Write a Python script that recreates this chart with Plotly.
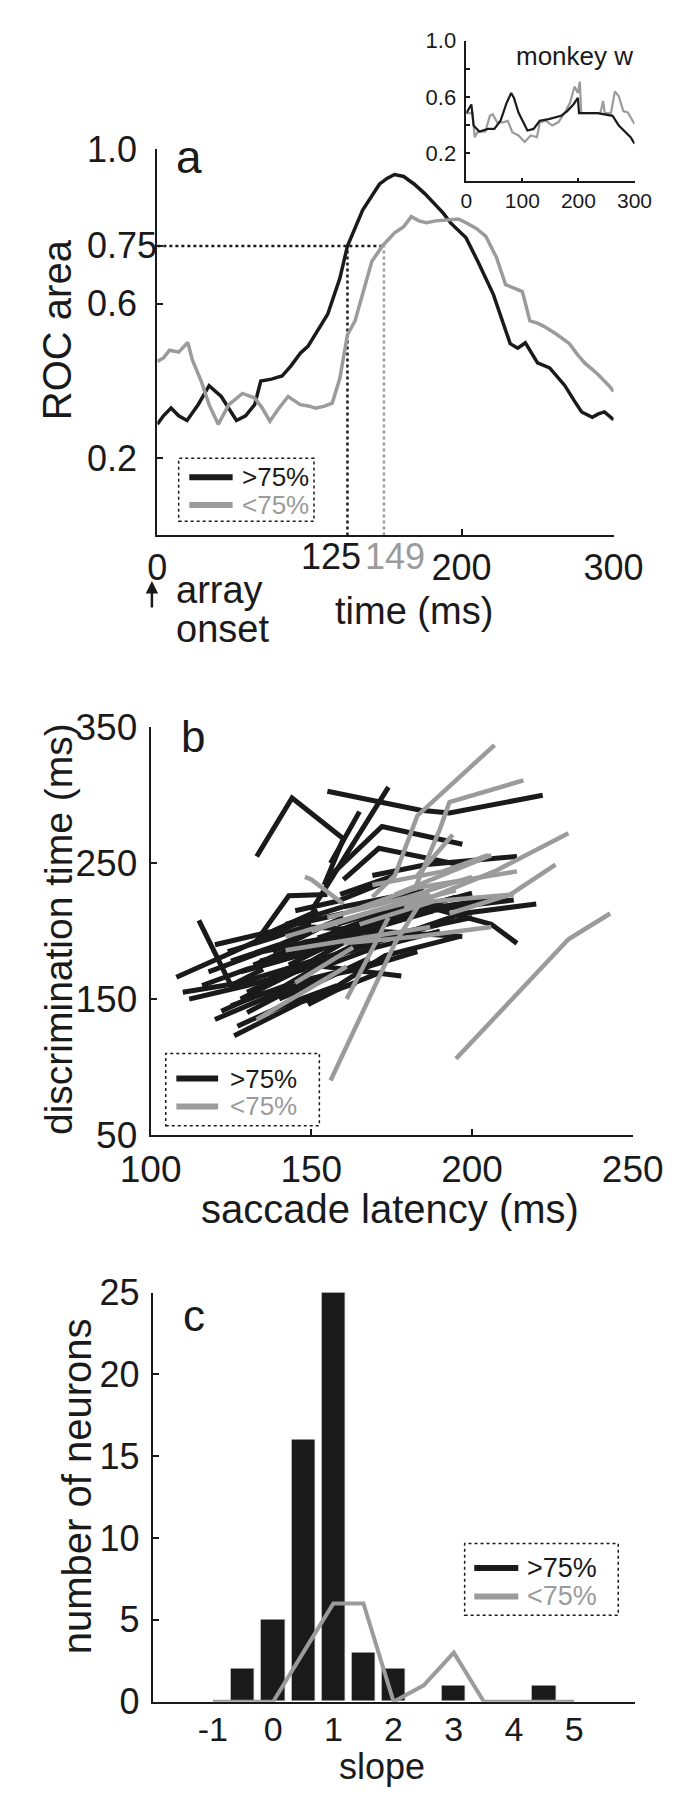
import plotly.graph_objects as go

W, H = 682, 1800
FONT = "Liberation Sans, Arial, Helvetica, sans-serif"
BLACK = "#1a1a1a"
GRAY = "#9b9b9b"

# ---------------- panel a : ROC area vs time ----------------
roc_hi_t = [0, 4, 9, 14, 19.5, 27, 34, 42, 52, 58, 64, 68, 75, 82, 88, 94, 99, 104, 112, 120, 125,
            135, 146, 151, 156, 162, 169, 176, 182, 188, 193, 198, 203, 211, 221, 232, 237, 242,
            250, 258, 263, 268, 274, 279, 286, 290, 294, 300]
roc_hi = [0.288, 0.31, 0.33, 0.31, 0.298, 0.34, 0.388, 0.36, 0.298, 0.31, 0.339, 0.40, 0.405, 0.413,
          0.44, 0.472, 0.49, 0.523, 0.573, 0.666, 0.75, 0.843, 0.91, 0.925, 0.935, 0.93, 0.91, 0.885,
          0.86, 0.835, 0.809, 0.79, 0.771, 0.708, 0.624, 0.497, 0.485, 0.499, 0.447, 0.434, 0.41,
          0.388, 0.35, 0.32, 0.306, 0.315, 0.32, 0.30]
roc_lo_t = [0, 4, 8, 14, 20, 23, 29, 34, 40, 47, 56, 64, 69, 74, 80, 86, 94, 100, 104, 110, 115, 120,
            125, 130, 136, 141, 148, 156, 162, 167, 172, 177, 183, 188, 193, 198, 203, 210, 216, 223,
            229, 235, 240, 245, 250, 255, 263, 271, 276, 281, 289, 297, 300]
roc_lo = [0.451, 0.46, 0.48, 0.475, 0.50, 0.455, 0.398, 0.339, 0.288, 0.339, 0.368, 0.356, 0.33,
          0.296, 0.33, 0.36, 0.339, 0.335, 0.33, 0.335, 0.343, 0.407, 0.52, 0.556, 0.64, 0.71, 0.75,
          0.784, 0.80, 0.826, 0.815, 0.81, 0.815, 0.817, 0.82, 0.82, 0.81, 0.795, 0.775, 0.72, 0.65,
          0.64, 0.632, 0.556, 0.55, 0.54, 0.52, 0.497, 0.47, 0.447, 0.42, 0.388, 0.373]
threshold = 0.75
cross_hi = 125
cross_lo = 149
a_yticks = [0.2, 0.6, 0.75, 1.0]
a_ytext = ["0.2", "0.6", "0.75", "1.0"]
a_xticks = [0, 200, 300]

# ---------------- inset : monkey w ----------------
ins_hi_t = [0, 9, 13, 23, 39, 50, 61, 72, 80, 85, 93, 104, 109, 120, 131, 147, 169, 180, 191, 199,
            201, 234, 245, 261, 272, 283, 293, 300]
ins_hi = [0.485, 0.547, 0.397, 0.355, 0.373, 0.373, 0.431, 0.559, 0.628, 0.594, 0.49, 0.397, 0.362,
          0.373, 0.431, 0.443, 0.466, 0.50, 0.547, 0.594, 0.485, 0.485, 0.478, 0.466, 0.397, 0.35,
          0.315, 0.269]
ins_lo_t = [0, 11, 15, 20, 34, 42, 47, 55, 66, 74, 82, 93, 104, 115, 126, 131, 142, 153, 164, 174,
            185, 193, 199, 202.5, 205, 239, 244, 247, 258, 265, 272, 280, 288, 296, 300]
ins_lo = [0.485, 0.485, 0.315, 0.35, 0.355, 0.466, 0.478, 0.42, 0.42, 0.431, 0.35, 0.327, 0.281,
          0.327, 0.315, 0.42, 0.431, 0.397, 0.42, 0.478, 0.559, 0.675, 0.628, 0.709, 0.485, 0.485,
          0.571, 0.485, 0.485, 0.64, 0.605, 0.50, 0.49, 0.431, 0.408]

# ---------------- panel b : discrimination time vs saccade latency ----------------
b_black_lat = [
    [133, 144, 160, 154], [155, 184, 193, 222], [150, 174], [156, 165], [156, 172, 197],
    [160, 171, 196], [169, 186, 214], [175, 206, 214], [176, 197, 220], [150, 166, 178],
    [108, 126, 142], [110, 128, 150], [115, 125, 135], [122, 133, 149], [126, 147, 164],
    [133, 143, 155], [150, 197], [149, 173, 196], [149, 159, 172], [159, 176],
    [140, 158, 175], [118, 135, 155], [128, 145, 165], [135, 150, 170], [145, 165, 190],
    [125, 140, 160], [138, 155, 180], [160, 185, 213], [130, 150, 175], [142, 160, 185],
    [155, 175, 200], [120, 138, 152], [132, 148, 168], [146, 170, 205],
    [112, 130, 148], [120, 135, 152], [125, 142, 160], [130, 148, 166], [137, 155, 172],
    [143, 160, 180], [148, 166, 188], [152, 172, 195], [128, 140, 156], [134, 152, 170],
    [116, 130, 146], [140, 152, 168], [155, 170, 190], [162, 180, 200], [124, 138, 150],
    [145, 158, 175], [150, 165, 183], [168, 190, 210], [135, 145, 160], [158, 172, 186],
    [127, 141, 158],
]
b_black_dt = [
    [255, 298, 268, 234], [303, 289, 287, 300], [215, 306], [250, 288], [241, 277, 264],
    [238, 261, 249], [241, 249, 255], [225, 205, 191], [196, 213, 220], [175, 170, 167],
    [166, 185, 203], [155, 162, 178], [208, 160, 172], [141, 153, 162], [123, 148, 162],
    [193, 226, 227], [203, 196], [146, 182, 196], [146, 158, 170], [227, 241],
    [180, 200, 215], [170, 185, 195], [150, 170, 188], [160, 178, 205], [170, 190, 205],
    [178, 190, 210], [185, 205, 218], [200, 215, 223], [140, 165, 180], [205, 218, 230],
    [195, 212, 228], [190, 200, 215], [175, 192, 200], [185, 208, 222],
    [150, 160, 172], [135, 150, 165], [145, 160, 185], [155, 175, 190], [165, 180, 200],
    [175, 195, 210], [185, 200, 215], [195, 210, 225], [170, 178, 190], [178, 186, 198],
    [160, 172, 182], [150, 162, 180], [175, 188, 200], [185, 200, 210], [185, 195, 205],
    [215, 222, 238], [165, 172, 185], [205, 218, 225], [195, 205, 213], [205, 215, 222],
    [130, 145, 160],
]
b_gray_lat = [
    [169, 176, 183, 207], [182, 190, 193, 216], [179, 207, 230], [193, 212, 226], [183, 194],
    [169, 191, 205], [148, 150, 160], [156, 176, 185], [195, 230, 243], [161, 174],
    [133, 161], [160, 183, 214], [160, 183, 206], [145, 163], [142, 187], [142, 187],
    [176, 206], [165, 188, 213], [150, 170, 195], [155, 180, 200],
]
b_gray_dt = [
    [225, 241, 285, 337], [230, 275, 295, 311], [217, 244, 272], [213, 227, 249], [241, 271],
    [234, 244, 256], [240, 238, 220], [90, 191, 225], [106, 194, 213], [150, 210],
    [135, 174], [213, 232, 244], [191, 196, 203], [162, 188], [196, 227], [186, 203],
    [227, 256], [205, 222, 227], [200, 215, 230], [210, 225, 240],
]

# ---------------- panel c : slope histogram ----------------
c_bins = [-0.5, 0, 0.5, 1, 1.5, 2, 3, 4.5]
c_counts = [2, 5, 16, 25, 3, 2, 1, 1]
c_lo_x = [-1, -0.5, 0, 0.5, 1, 1.5, 2, 2.5, 3, 3.5, 4, 4.5, 5]
c_lo_y = [0, 0, 0, 3, 6, 6, 0, 1, 3, 0, 0, 0, 0]
c_xticks = [-1, 0, 1, 2, 3, 4, 5]
c_xtext = ["-1", "0", "1", "2", "3", "4", "5"]
c_yticks = [0, 5, 10, 15, 20, 25]


def dx(a, b):
    return [a / W, b / W]


def dy(top, bottom):
    return [1 - bottom / H, 1 - top / H]


def P(xp, yp):
    return xp / W, 1 - yp / H


fig = go.Figure()

# panel a traces
fig.add_trace(go.Scatter(x=[0, cross_lo], y=[threshold, threshold], mode="lines",
                         line=dict(color=BLACK, width=2.5, dash="dot"), xaxis="x", yaxis="y"))
fig.add_trace(go.Scatter(x=[cross_hi, cross_hi], y=[0, threshold], mode="lines",
                         line=dict(color=BLACK, width=2.5, dash="dot"), xaxis="x", yaxis="y"))
fig.add_trace(go.Scatter(x=[cross_lo, cross_lo], y=[0, threshold], mode="lines",
                         line=dict(color=GRAY, width=2.5, dash="dot"), xaxis="x", yaxis="y"))
fig.add_trace(go.Scatter(x=roc_hi_t, y=roc_hi, mode="lines", line=dict(color=BLACK, width=3.5),
                         xaxis="x", yaxis="y"))
fig.add_trace(go.Scatter(x=roc_lo_t, y=roc_lo, mode="lines", line=dict(color=GRAY, width=3.5),
                         xaxis="x", yaxis="y"))

# inset traces
fig.add_trace(go.Scatter(x=ins_lo_t, y=ins_lo, mode="lines", line=dict(color=GRAY, width=2.2),
                         xaxis="x2", yaxis="y2"))
fig.add_trace(go.Scatter(x=ins_hi_t, y=ins_hi, mode="lines", line=dict(color=BLACK, width=2.2),
                         xaxis="x2", yaxis="y2"))

# panel b traces
for lx, ly in zip(b_black_lat, b_black_dt):
    fig.add_trace(go.Scatter(x=lx, y=ly, mode="lines", line=dict(color=BLACK, width=5),
                             xaxis="x3", yaxis="y3"))
for lx, ly in zip(b_gray_lat, b_gray_dt):
    fig.add_trace(go.Scatter(x=lx, y=ly, mode="lines", line=dict(color=GRAY, width=4.5),
                             xaxis="x3", yaxis="y3"))

# panel c traces
fig.add_trace(go.Bar(x=c_bins, y=c_counts, width=0.4,
                     marker=dict(color=BLACK, line=dict(color="white", width=1)),
                     xaxis="x4", yaxis="y4"))
fig.add_trace(go.Scatter(x=c_lo_x, y=c_lo_y, mode="lines", line=dict(color=GRAY, width=4),
                         xaxis="x4", yaxis="y4"))


def ax_style(size, **kw):
    d = dict(showline=True, linecolor=BLACK, linewidth=2, ticks="inside", ticklen=6, tickwidth=2,
             tickcolor=BLACK, showgrid=False, zeroline=False, mirror=False, fixedrange=True,
             tickfont=dict(family=FONT, size=size, color=BLACK))
    d.update(kw)
    return d


layout = dict(
    width=W, height=H, margin=dict(l=0, r=0, t=0, b=0), paper_bgcolor="white",
    plot_bgcolor="rgba(0,0,0,0)", showlegend=False, font=dict(family=FONT, color=BLACK),
    xaxis=ax_style(36, domain=dx(130, 631), range=[0, 300], tickvals=a_xticks, anchor="y",
                   ticklabelstandoff=-1),
    yaxis=ax_style(36, domain=dy(124.3, 519.3), range=[0, 1], tickvals=a_yticks,
                   ticktext=["", "", "", ""], anchor="x"),
    xaxis2=ax_style(21, domain=dx(469.3, 654), range=[0, 300], tickvals=[0, 100, 200, 300],
                    anchor="y2", ticklen=4, linewidth=1.5, tickwidth=1.5),
    yaxis2=ax_style(22, domain=dy(13, 157), range=[0, 1], tickvals=[0.2, 0.4, 0.6, 0.8, 1.0],
                    ticktext=["0.2", "", "0.6", "", "1.0"], anchor="x2", ticklen=4,
                    linewidth=1.5, tickwidth=1.5, ticklabelstandoff=4),
    xaxis3=ax_style(37, domain=dx(122.6, 652), range=[100, 250], tickvals=[100, 150, 200, 250],
                    anchor="y3", ticklabelstandoff=1),
    yaxis3=ax_style(37, domain=dy(715.7, 1132.7), range=[50, 350], tickvals=[50, 150, 250, 350],
                    anchor="x3", ticklabelstandoff=4),
    xaxis4=ax_style(34, domain=dx(124.8, 654), range=[-2, 6], tickvals=c_xticks,
                    ticktext=c_xtext, ticks="", anchor="y4", ticklabelstandoff=-3),
    yaxis4=ax_style(36, domain=dy(1294, 1712.7), range=[0, 25], tickvals=c_yticks, anchor="x4",
                    ticklabelstandoff=4),
    bargap=0,
)
fig.update_layout(**layout)

shapes = []
ann = []


def legend(xref, yref, box, seg, y_hi, y_lo, text_x, size):
    shapes.append(dict(type="rect", xref=xref, yref=yref, x0=box[0], x1=box[1], y0=box[2], y1=box[3],
                       line=dict(color=BLACK, width=1.5, dash="dot")))
    shapes.append(dict(type="line", xref=xref, yref=yref, x0=seg[0], x1=seg[1], y0=y_hi, y1=y_hi,
                       line=dict(color=BLACK, width=6)))
    shapes.append(dict(type="line", xref=xref, yref=yref, x0=seg[0], x1=seg[1], y0=y_lo, y1=y_lo,
                       line=dict(color=GRAY, width=6)))
    ann.append(dict(xref=xref, yref=yref, x=text_x, y=y_hi, text="&gt;75%", showarrow=False,
                    xanchor="left", yanchor="middle", borderpad=0,
                    font=dict(size=size, color=BLACK, family=FONT)))
    ann.append(dict(xref=xref, yref=yref, x=text_x, y=y_lo, text="&lt;75%", showarrow=False,
                    xanchor="left", yanchor="middle", borderpad=0,
                    font=dict(size=size, color=GRAY, family=FONT)))


legend("x", "y", [14, 103, 0.037, 0.2], [21, 49.5], 0.151, 0.079, 55, 26)
legend("x3", "y3", [104.7, 152.5, 56.8, 110], [108, 121], 91.5, 71, 124.5, 26)
legend("x4", "y4", [3.18, 5.73, 5.28, 9.66], [3.34, 4.07], 8.17, 6.43, 4.2, 27)


def text(xp, yp, s, size, xanchor="center", yanchor="middle", color=BLACK, angle=0):
    x, y = P(xp, yp)
    ann.append(dict(xref="paper", yref="paper", x=x, y=y, text=s, showarrow=False, xanchor=xanchor,
                    yanchor=yanchor, textangle=angle, font=dict(size=size, color=color, family=FONT)))


# panel a y tick labels (left aligned, as in the reference)
for v, s in zip(a_yticks, a_ytext):
    ann.append(dict(xref="paper", yref="y", x=50 / W, y=v, text=s, showarrow=False, xanchor="left",
                    yanchor="middle", font=dict(size=36, color=BLACK, family=FONT)))
# crossing time labels
ann.append(dict(xref="x", yref="paper", x=114.5, y=1 - 541 / H, text=str(cross_hi), showarrow=False,
                xanchor="center", yanchor="middle", font=dict(size=36, color=BLACK, family=FONT)))
ann.append(dict(xref="x", yref="paper", x=156.5, y=1 - 541 / H, text=str(cross_lo), showarrow=False,
                xanchor="center", yanchor="middle", font=dict(size=36, color=GRAY, family=FONT)))

text(148, 132, "a", 46, "left")
text(20, 309, "ROC area", 40, angle=-90)
text(412, 597, "time (ms)", 38)
text(148, 575, "array", 38, "left")
text(148, 615, "onset", 38, "left")
xa, ya = P(124, 566)
ann.append(dict(xref="paper", yref="paper", x=xa, y=ya, ax=0, ay=28, text="", showarrow=True,
                arrowhead=2, arrowsize=1, arrowwidth=2.5, arrowcolor=BLACK))
text(588, 29, "monkey w", 26)

text(154, 725, "b", 44, "left")
text(22, 922, "discrimination time (ms)", 39, angle=-90)
text(385, 1209, "saccade latency (ms)", 40)

text(156, 1318, "c", 44, "left")
text(42, 1492, "number of neurons", 40, angle=-90)
text(377, 1779, "slope", 36)

fig.update_layout(shapes=shapes, annotations=ann)
fig.write_html("out.html")
